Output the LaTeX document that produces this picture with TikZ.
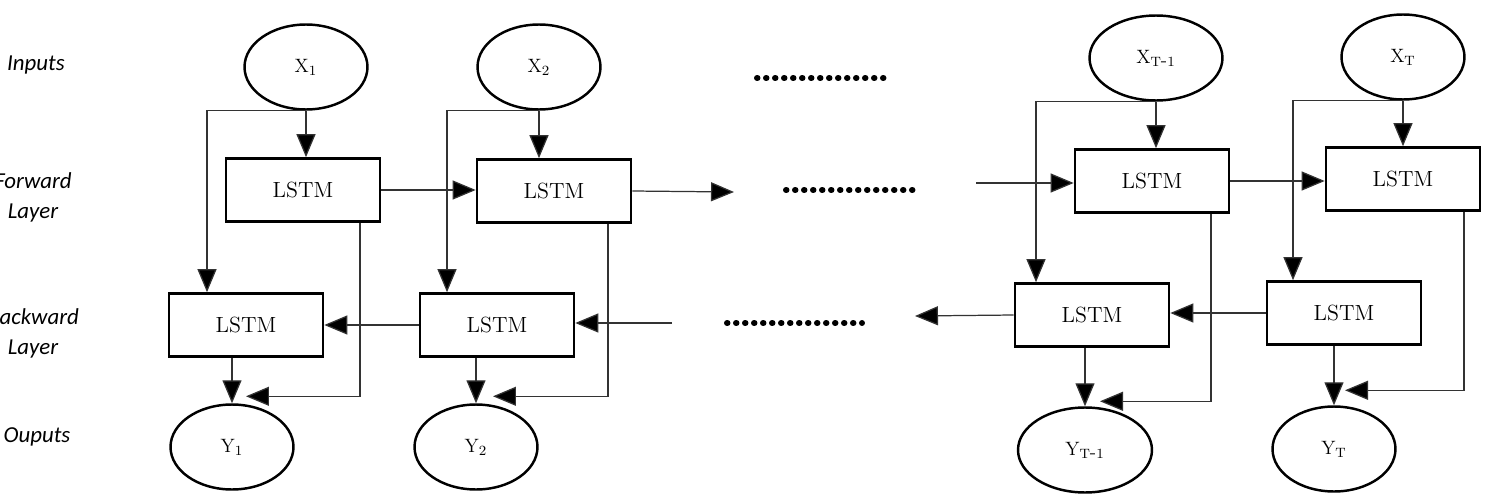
\documentclass[tikz,border=0pt]{standalone}
\usepackage{fontspec}
\newfontfamily\lblfont{Carlito}
\usetikzlibrary{shapes.geometric,arrows.meta}
\begin{document}
\begin{tikzpicture}[x=0.02cm,y=-0.02cm,
  cell/.style={draw,line width=1.5pt,minimum width=3.08cm,minimum height=1.26cm,inner sep=0pt,font=\fontsize{12.5}{14}\selectfont},
  io/.style={draw,ellipse,line width=1.4pt,minimum width=2.46cm,minimum height=1.7cm,inner sep=0pt,font=\fontsize{11}{13}\selectfont},
  arr/.style={line width=0.7pt,draw=black!80,-{Triangle[length=0.46cm,width=0.38cm,fill=black]}},
  lbl/.style={font=\lblfont\itshape\fontsize{13}{17}\selectfont,align=center},
  dots/.style={line width=3.4pt,line cap=round,dash pattern=on 0.01cm off 0.17cm}]
\useasboundingbox (0,0) rectangle (1499,497);
% labels
\node[lbl] (li) at (36,65) {Inputs};
\node[lbl] (lf) at (33,197) {Forward\\Layer};
\node[lbl] (lb) at (33,333) {Backward\\Layer};
\node[lbl] (lo) at (37,437) {Ouputs};
% inputs
\node[io] (X1) at (306,67) {X$_1$};
\node[io] (X2) at (539,67) {X$_2$};
\node[io,minimum width=2.66cm] (X3) at (1156,58) {X$_{\mathrm{T}\mbox{-}1}$};
\node[io] (X4) at (1403,57) {X$_{\mathrm{T}}$};
% forward
\node[cell] (F1) at (303,190) {LSTM};
\node[cell] (F2) at (554,191) {LSTM};
\node[cell] (F3) at (1152,181) {LSTM};
\node[cell] (F4) at (1403,179) {LSTM};
% backward
\node[cell] (B1) at (246,325) {LSTM};
\node[cell] (B2) at (497,325) {LSTM};
\node[cell] (B3) at (1092,315) {LSTM};
\node[cell] (B4) at (1344,313) {LSTM};
% outputs
\node[io] (Y1) at (232,447) {Y$_1$};
\node[io] (Y2) at (476,447) {Y$_2$};
\node[io,minimum width=2.68cm] (Y3) at (1085,450) {Y$_{\mathrm{T}\mbox{-}1}$};
\node[io] (Y4) at (1334,449) {Y$_{\mathrm{T}}$};
% free ends
\coordinate (f2end) at (734,192);
\coordinate (f3start) at (976,183);
\coordinate (b2start) at (672,323);
\coordinate (b3end) at (915,316);
% dots
\coordinate (d1a) at (757,78); \coordinate (d1b) at (891,78);
\coordinate (d2a) at (786,190); \coordinate (d2b) at (920,190);
\coordinate (d3a) at (727,323); \coordinate (d3b) at (862,323);
\draw[dots] (d1a) -- (d1b);
\draw[dots] (d2a) -- (d2b);
\draw[dots] (d3a) -- (d3b);
% input arrows
\foreach \x/\f in {X1/F1,X2/F2,X3/F3,X4/F4}
  \draw[arr] (\x.south) -- (\x.south |- \f.north);
\draw[arr] (X1.south) -| ([xshift=-0.78cm]B1.north);
\draw[arr] (X2.south) -| ([xshift=-1.0cm]B2.north);
\draw[arr] (X3.south) -| ([xshift=-1.12cm]B3.north);
\draw[arr] (X4.south) -| ([xshift=-1.02cm]B4.north);
% forward chain
\draw[arr] (F1.east) -- (F1.east -| F2.west);
\draw[arr] (F2.east) -- (f2end);
\draw[arr] (f3start) -- (f3start -| F3.west);
\draw[arr] (F3.east) -- (F3.east -| F4.west);
% backward chain
\draw[arr] (b2start) -- (b2start -| B2.east);
\draw[arr] (B2.west) -- (B2.west -| B1.east);
\draw[arr] (B4.west) -- (B4.west -| B3.east);
\draw[arr] (B3.west) -- (b3end);
% backward to outputs
\foreach \b/\y in {B1/Y1,B2/Y2,B3/Y3,B4/Y4}
  \draw[arr] (\y.north |- \b.south) -- (\y.north);
% forward to outputs
\draw[arr] ([xshift=1.14cm]F1.south) |- ([xshift=0.28cm,yshift=0.14cm]Y1.north);
\draw[arr] ([xshift=1.08cm]F2.south) |- ([xshift=0.34cm,yshift=0.14cm]Y2.north);
\draw[arr] ([xshift=1.18cm]F3.south) |- ([xshift=0.3cm,yshift=0.1cm]Y3.north);
\draw[arr] ([xshift=1.22cm]F4.south) |- ([xshift=0.22cm,yshift=0.3cm]Y4.north);
\end{tikzpicture}
\end{document}
